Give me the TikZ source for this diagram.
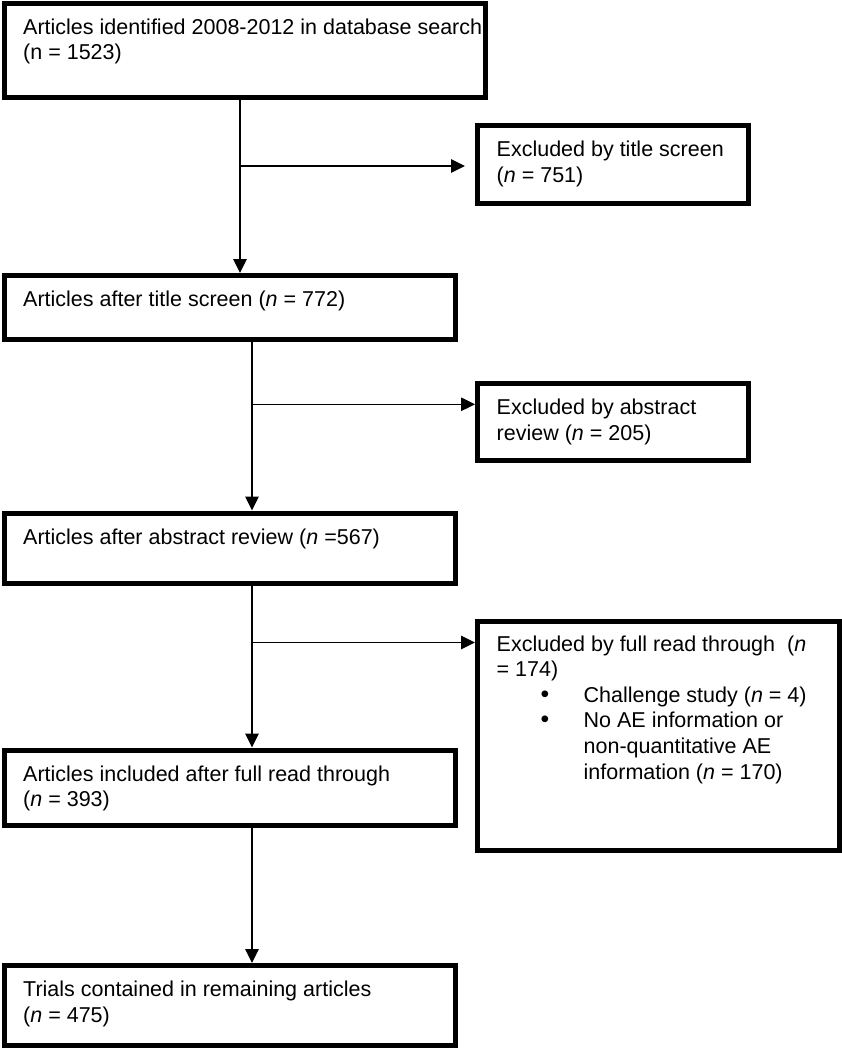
\documentclass[tikz,border=0pt]{standalone}
\usepackage{fontspec}
\setmainfont{Liberation Sans}
\usetikzlibrary{arrows.meta,fit}
\begin{document}
\begin{tikzpicture}[x=1pt,y=-1pt,
  box/.style={draw, line width=5pt, inner sep=0pt},
  txt/.style={anchor=base west, inner sep=0pt, align=left,
    font=\fontsize{21.5}{25.6}\selectfont},
  link/.style={line width=1.3pt},
  arr/.style={link, -{Triangle[length=14pt,width=13.5pt]}}]
\useasboundingbox (0,0) rectangle (842,1050);
% boxes
\node[box, fit={(4,3) (485,97)}] (b1) {};
\node[box, fit={(477.5,125.5) (748.5,203)}] (e1) {};
\node[box, fit={(4,275.5) (455,339.5)}] (b2) {};
\node[box, fit={(477.5,383.5) (748.5,460.5)}] (e2) {};
\node[box, fit={(4,513) (455,583.5)}] (b3) {};
\node[box, fit={(477.5,621.5) (839.5,850.5)}] (e3) {};
\node[box, fit={(4,750) (455,825.5)}] (b4) {};
\node[box, fit={(4,965.5) (455,1045.5)}] (b5) {};
% texts (anchor = baseline of the last line)
\node[txt] (t1) at (23,59.9) {Articles identified 2008-2012 in database search\\(n = 1523)};
\node[txt] (u1) at (496.5,182.3) {Excluded by title screen\\(\textit{n} = 751)};
\node[txt] (t2) at (23,306.7) {Articles after title screen (\textit{n} = 772)};
\node[txt] (u2) at (496.5,440.1) {Excluded by abstract\\review (\textit{n} = 205)};
\node[txt] (t3) at (23,544) {Articles after abstract review (\textit{n} =567)};
\node[txt] (u3) at (496.5,779) {Excluded by full read through\ \ (\textit{n}\\= 174)\\
  \hspace*{44pt}\makebox[43pt][l]{\scalebox{1.15}{\textbullet}}Challenge study (\textit{n} = 4)\\
  \hspace*{44pt}\makebox[43pt][l]{\scalebox{1.15}{\textbullet}}No AE information or\\
  \hspace*{87pt}non-quantitative AE\\
  \hspace*{87pt}information (\textit{n} = 170)};
\node[txt] (t4) at (23,806.6) {Articles included after full read through\\(\textit{n} = 393)};
\node[txt] (t5) at (23,1022.1) {Trials contained in remaining articles\\(\textit{n} = 475)};
% connectors
\coordinate (j1) at (240,166);
\coordinate (j2) at (252,404.3);
\coordinate (j3) at (252,642.5);
\draw[arr] (b1.south -| j1) -- (b2.north -| j1);
\draw[arr, shorten >=10pt] (j1) -- (j1 -| e1.west);
\draw[arr] (b2.south -| j2) -- (b3.north -| j2);
\draw[arr] (j2) -- (j2 -| e2.west);
\draw[arr] (b3.south -| j3) -- (b4.north -| j3);
\draw[arr] (j3) -- (j3 -| e3.west);
\draw[arr] (b4.south -| j3) -- (b5.north -| j3);
\end{tikzpicture}
\end{document}
